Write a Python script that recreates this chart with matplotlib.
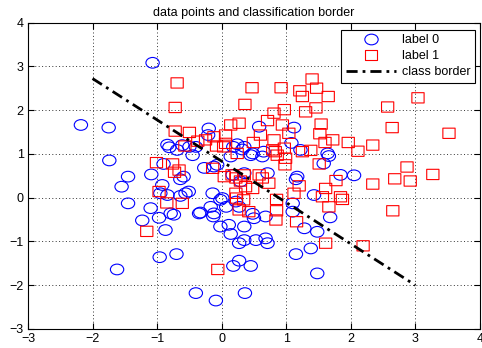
import numpy as np
import matplotlib
matplotlib.use("Agg")
import matplotlib.pyplot as plt
from matplotlib.path import Path
from matplotlib.lines import Line2D
import matplotlib.transforms as mt

plt.rcParams['font.family'] = ['Liberation Sans', 'DejaVu Sans']

# ---- data ----
label0_x = [-1.07, -2.18, -1.75, -1.74, -1.45, -1.55, -1.45, -1.09, -0.90, -0.84,
            -0.81, -0.69, -0.50, -0.59, -0.64, -0.92, -0.95, -0.84, -0.56, -0.51,
            -0.64, -1.10, -0.79, -0.97, -1.23, -0.87, -0.96, -0.70, -1.62, -0.20,
            -0.21, -0.61, -0.40, -0.45, -0.27, -0.07, -0.12, 0.14, 0.18, 0.32,
            0.48, 0.65, 0.58, 1.12, 0.24, 0.35, 1.08, 1.22, 1.64, 1.66,
            1.58, 1.84, 2.05, 1.17, 1.15, 0.17, 0.35, 0.29, 0.71, -0.14,
            0.01, 0.22, 0.27, -0.17, -0.12, -0.13, -0.35, -0.74, 0.07, 0.50,
            0.68, 0.48, 0.14, 0.35, 0.11, -0.02, 0.27, 0.35, 0.53, 0.68,
            0.71, 0.18, 0.27, 0.45, -0.40, -0.09, 0.36, 1.48, 1.15, 1.38,
            1.28, 1.48, 1.10, 1.10, 1.43, 1.68, -0.33, -0.02, 0.45, 0.63]
label0_y = [3.08, 1.66, 1.60, 0.85, 0.48, 0.25, -0.13, 0.53, 0.77, 1.21,
            1.15, 1.09, 1.16, 0.48, 0.42, 0.29, 0.10, 0.06, 0.10, 0.14,
            0.04, -0.24, -0.36, -0.46, -0.52, -0.74, -1.36, -1.29, -1.64, 1.58,
            1.43, 1.20, 1.16, 0.97, 0.68, 0.75, 0.71, 0.94, 1.16, 1.10,
            1.01, 1.05, 1.62, 1.60, 1.22, 1.16, 1.25, 1.09, 1.01, 0.95,
            0.78, 0.52, 0.51, 0.48, 0.42, 0.52, 0.56, 0.37, 0.56, 0.10,
            -0.01, -0.09, -0.21, -0.21, -0.36, -0.43, -0.36, -0.39, -0.21, -0.47,
            -0.43, -0.37, -0.83, -0.66, -0.62, -0.66, -1.04, -0.97, -0.97, -0.93,
            -1.04, -1.56, -1.44, -1.56, -2.18, -2.35, -2.18, -1.73, -1.29, -1.16,
            -0.70, -0.78, -0.32, -0.13, 0.06, -0.45, -0.34, -0.05, 0.97, 0.94]

label1_x = [-0.69, -0.72, -0.72, -0.50, -0.57, -1.01, -0.76, -0.73, -0.97, -0.85,
            -0.61, -1.16, -0.12, 0.06, 0.03, -0.37, -0.25, -0.08, 0.47, 0.92,
            1.40, 1.21, 1.47, 1.25, 1.65, 0.36, 1.46, 1.30, 0.97, 0.81,
            0.71, 0.27, 0.14, 0.94, 1.54, 1.52, 0.60, 1.04, 0.81, 1.60,
            0.06, 0.79, 0.97, 1.38, 1.25, 0.49, 0.83, 0.86, 0.98, 1.51,
            3.04, 2.57, 2.64, 3.52, 1.72, 1.96, 2.11, 2.34, 2.87, 2.68,
            2.92, 3.27, 2.34, 1.77, 1.61, 1.84, 1.87, 1.66, 1.56, 2.65,
            1.61, 2.19, -0.06, 0.27, 0.42, 0.23, 0.85, 0.85, 0.84, 1.12,
            1.16, 1.20, -0.66, -0.14, 0.04, 0.16, 0.22, 0.35, 0.29, 0.58,
            0.63, 0.73, 0.48, 0.37, 0.22, 0.34, 0.99, 0.24]
label1_y = [2.62, 2.06, 1.52, 1.49, 1.18, 0.80, 0.77, 0.58, 0.14, -0.12,
            -0.13, -0.77, 1.39, 1.43, 1.16, 1.29, 1.32, 1.18, 2.51, 2.51,
            2.71, 2.44, 2.50, 2.31, 2.31, 2.13, 2.05, 1.96, 2.01, 1.93,
            1.76, 1.70, 1.66, 1.66, 1.68, 1.46, 1.43, 1.47, 1.32, 1.26,
            1.24, 1.09, 1.13, 1.08, 1.05, 1.26, 1.05, 0.97, 0.75, 0.77,
            2.28, 2.07, 1.60, 1.47, 1.32, 1.26, 1.06, 1.20, 0.70, 0.43,
            0.38, 0.53, 0.31, 0.39, 0.21, 0.02, -0.04, -0.21, 0.02, -0.30,
            -1.04, -1.10, -1.64, -0.28, -0.32, -0.01, -0.04, -0.30, -0.51, 0.10,
            -0.55, 0.27, 0.63, 0.67, 0.48, 0.52, 0.45, 0.52, 0.38, 0.52,
            0.45, 0.33, 0.21, 0.25, 0.10, -0.05, 0.90, 1.01]

border_x = [-2.0, 3.0]
border_y = [2.72, -2.0]

series_labels = ['label 0', 'label 1', 'class border']
title_text = 'data points and classification border'
x_ticks = [-3, -2, -1, 0, 1, 2, 3, 4]
y_ticks = [-3, -2, -1, 0, 1, 2, 3, 4]

# ---- markers (image is slightly stretched horizontally) ----
ell = Path.unit_circle().transformed(mt.Affine2D().scale(1.0, 0.8))
rect = Path([(-1, -0.84), (1, -0.84), (1, 0.84), (-1, 0.84), (-1, -0.84)],
            [Path.MOVETO, Path.LINETO, Path.LINETO, Path.LINETO, Path.CLOSEPOLY])

BLUE = '#0000ff'
RED = '#ff0000'
ms0, ms1 = 9.6, 8.8
dash_style = (0, (4.0, 1.8, 1.0, 1.8))

fig = plt.figure(figsize=(4.82, 3.48), dpi=100)
ax = fig.add_axes([0.058, 0.0546, 0.9378, 0.8807])

sc0 = ax.scatter(label0_x, label0_y, s=ms0 ** 2, marker=ell, facecolors='none',
                 edgecolors=BLUE, linewidths=0.8, zorder=2)
sc1 = ax.scatter(label1_x, label1_y, s=ms1 ** 2, marker=rect, facecolors='none',
                 edgecolors=RED, linewidths=0.8, zorder=2.1)
sc0.set_snap(False)
sc1.set_snap(False)
ax.plot(border_x, border_y, color='black', linewidth=2.0,
        linestyle=dash_style, zorder=3)

ax.set_xlim(x_ticks[0], x_ticks[-1])
ax.set_ylim(y_ticks[0], y_ticks[-1])
ax.set_xticks(x_ticks)
ax.set_yticks(y_ticks)
ax.tick_params(direction='in', length=4, width=0.8, top=True, right=True,
               labelsize=9, pad=3)
ax.grid(True, linestyle=(0, (1, 2.5)), color='#333333', linewidth=0.7)
for s in ax.spines.values():
    s.set_linewidth(0.8)
ax.set_title(title_text, fontsize=9, pad=5)

handles = [
    Line2D([], [], linestyle='none', marker=ell, markersize=ms0,
           markerfacecolor='none', markeredgecolor=BLUE, markeredgewidth=0.8),
    Line2D([], [], linestyle='none', marker=rect, markersize=ms1,
           markerfacecolor='none', markeredgecolor=RED, markeredgewidth=0.8),
    Line2D([], [], color='black', linewidth=2.0, linestyle=dash_style),
]
leg = ax.legend(handles, series_labels, loc='upper right',
                bbox_to_anchor=(0.989, 0.976), fontsize=9,
                frameon=True, fancybox=False, framealpha=1, edgecolor='black',
                handlelength=4.0, handletextpad=0.5, borderpad=0.35,
                labelspacing=0.32, borderaxespad=0)
leg.get_frame().set_linewidth(0.8)

fig.savefig('out.png', dpi=100)
